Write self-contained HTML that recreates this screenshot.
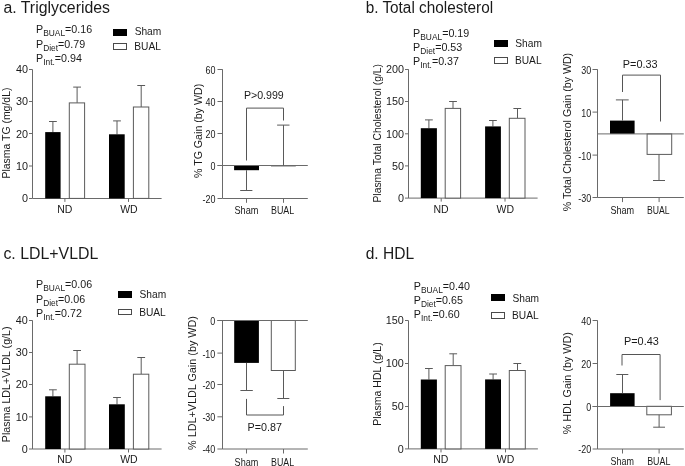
<!DOCTYPE html>
<html><head><meta charset="utf-8"><style>
html,body{margin:0;padding:0;background:#fff;}
svg{display:block;will-change:transform;font-family:"Liberation Sans", sans-serif;}
</style></head><body>
<svg width="685" height="466" viewBox="0 0 685 466">
<rect width="685" height="466" fill="#fff"/>
<text x="3.43" y="12.5" font-size="15.8" fill="#1a1a1a" textLength="106.63" lengthAdjust="spacingAndGlyphs">a. Triglycerides</text>
<text x="36.02" y="33.16" font-size="10.7" fill="#1a1a1a">P<tspan font-size="8.4" dy="3">BUAL</tspan><tspan dy="-3">=0.16</tspan></text>
<text x="36.02" y="47.56" font-size="10.7" fill="#1a1a1a">P<tspan font-size="8.4" dy="3">Diet</tspan><tspan dy="-3">=0.79</tspan></text>
<text x="36.02" y="61.86" font-size="10.7" fill="#1a1a1a">P<tspan font-size="8.4" dy="3">Int.</tspan><tspan dy="-3">=0.94</tspan></text>
<rect x="113.5" y="29.5" width="13" height="6" fill="#000" stroke="#000" stroke-width="1"/>
<rect x="113.5" y="43.5" width="13" height="6" fill="#fff" stroke="#4a4a4a" stroke-width="1"/>
<text x="134.64" y="35.3" font-size="10.2" fill="#1a1a1a">Sham</text>
<text x="134.26" y="50.1" font-size="10.2" fill="#1a1a1a">BUAL</text>
<line x1="32.5" y1="69.5" x2="32.5" y2="198.4" stroke="#6a6a6a" stroke-width="1"/>
<line x1="29" y1="69.5" x2="32.5" y2="69.5" stroke="#6a6a6a" stroke-width="1"/>
<text x="15.92" y="73.32" font-size="10.8" fill="#1a1a1a">40</text>
<line x1="29" y1="101.5" x2="32.5" y2="101.5" stroke="#6a6a6a" stroke-width="1"/>
<text x="15.92" y="105.32" font-size="10.8" fill="#1a1a1a">30</text>
<line x1="29" y1="133.5" x2="32.5" y2="133.5" stroke="#6a6a6a" stroke-width="1"/>
<text x="15.92" y="137.52" font-size="10.8" fill="#1a1a1a">20</text>
<line x1="29" y1="166" x2="32.5" y2="166" stroke="#6a6a6a" stroke-width="1"/>
<text x="15.92" y="169.82" font-size="10.8" fill="#1a1a1a">10</text>
<line x1="29" y1="198.5" x2="32.5" y2="198.5" stroke="#6a6a6a" stroke-width="1"/>
<text x="21.91" y="202.22" font-size="10.8" fill="#1a1a1a">0</text>
<line x1="32.5" y1="198.5" x2="161.6" y2="198.5" stroke="#6a6a6a" stroke-width="1"/>
<line x1="64.9" y1="198.4" x2="64.9" y2="201.9" stroke="#6a6a6a" stroke-width="1"/>
<text x="57.13" y="212.82" font-size="10.5" fill="#1a1a1a">ND</text>
<line x1="128.5" y1="198.4" x2="128.5" y2="201.9" stroke="#6a6a6a" stroke-width="1"/>
<text x="120.17" y="212.82" font-size="10.5" fill="#1a1a1a">WD</text>
<line x1="52.9" y1="132.1" x2="52.9" y2="121.5" stroke="#5a5a5a" stroke-width="1"/>
<line x1="49" y1="121.5" x2="56.8" y2="121.5" stroke="#5a5a5a" stroke-width="1"/>
<rect x="45.2" y="132.1" width="15.4" height="66.3" fill="#000" stroke="none" stroke-width="1"/>
<line x1="77.1" y1="102.9" x2="77.1" y2="87.1" stroke="#5a5a5a" stroke-width="1"/>
<line x1="73.2" y1="87.1" x2="81" y2="87.1" stroke="#5a5a5a" stroke-width="1"/>
<rect x="69.3" y="102.9" width="15.3" height="95.5" fill="#fff" stroke="#5a5a5a" stroke-width="1"/>
<line x1="117" y1="134.3" x2="117" y2="120.9" stroke="#5a5a5a" stroke-width="1"/>
<line x1="113.1" y1="120.9" x2="120.9" y2="120.9" stroke="#5a5a5a" stroke-width="1"/>
<rect x="109" y="134.3" width="15.7" height="64.1" fill="#000" stroke="none" stroke-width="1"/>
<line x1="141.2" y1="107" x2="141.2" y2="85.4" stroke="#5a5a5a" stroke-width="1"/>
<line x1="137.3" y1="85.5" x2="145.1" y2="85.5" stroke="#5a5a5a" stroke-width="1"/>
<rect x="133.4" y="107" width="15.4" height="91.4" fill="#fff" stroke="#5a5a5a" stroke-width="1"/>
<text x="0" y="0" font-size="10.46" fill="#1a1a1a" transform="translate(10.1,178.56) rotate(-90)">Plasma TG (mg/dL)</text>
<line x1="222.5" y1="69.3" x2="222.5" y2="198.3" stroke="#6a6a6a" stroke-width="1"/>
<line x1="217.5" y1="69.5" x2="222.5" y2="69.5" stroke="#6a6a6a" stroke-width="1"/>
<text x="205.59" y="73.74" font-size="10.3" fill="#1a1a1a" textLength="9.97" lengthAdjust="spacingAndGlyphs">60</text>
<line x1="217.5" y1="101.5" x2="222.5" y2="101.5" stroke="#6a6a6a" stroke-width="1"/>
<text x="205.59" y="106.24" font-size="10.3" fill="#1a1a1a" textLength="9.97" lengthAdjust="spacingAndGlyphs">40</text>
<line x1="217.5" y1="133.5" x2="222.5" y2="133.5" stroke="#6a6a6a" stroke-width="1"/>
<text x="205.59" y="138.04" font-size="10.3" fill="#1a1a1a" textLength="9.97" lengthAdjust="spacingAndGlyphs">20</text>
<line x1="217.5" y1="165.5" x2="222.5" y2="165.5" stroke="#6a6a6a" stroke-width="1"/>
<text x="210.56" y="170.14" font-size="10.3" fill="#1a1a1a" textLength="4.98" lengthAdjust="spacingAndGlyphs">0</text>
<line x1="217.5" y1="198.5" x2="222.5" y2="198.5" stroke="#6a6a6a" stroke-width="1"/>
<text x="202.59" y="202.74" font-size="10.3" fill="#1a1a1a" textLength="12.95" lengthAdjust="spacingAndGlyphs">-20</text>
<line x1="222.5" y1="198.5" x2="307.8" y2="198.5" stroke="#6a6a6a" stroke-width="1"/>
<line x1="246.5" y1="198.3" x2="246.5" y2="202.8" stroke="#6a6a6a" stroke-width="1"/>
<line x1="283.5" y1="198.3" x2="283.5" y2="202.8" stroke="#6a6a6a" stroke-width="1"/>
<text x="234.49" y="214.3" font-size="10.4" fill="#1a1a1a" textLength="24.01" lengthAdjust="spacingAndGlyphs">Sham</text>
<text x="270.97" y="214.3" font-size="10.4" fill="#1a1a1a" textLength="23.24" lengthAdjust="spacingAndGlyphs">BUAL</text>
<rect x="234.1" y="165.7" width="24.9" height="4.5" fill="#000" stroke="none" stroke-width="1"/>
<line x1="271" y1="165.85" x2="295.8" y2="165.85" stroke="#333" stroke-width="1"/>
<line x1="217.5" y1="165.5" x2="307.8" y2="165.5" stroke="#6a6a6a" stroke-width="1"/>
<line x1="246.5" y1="170.2" x2="246.5" y2="190.7" stroke="#5a5a5a" stroke-width="1"/>
<line x1="240.2" y1="190.5" x2="252.4" y2="190.5" stroke="#5a5a5a" stroke-width="1"/>
<line x1="283.5" y1="165.7" x2="283.5" y2="125.1" stroke="#5a5a5a" stroke-width="1"/>
<line x1="277.1" y1="125.1" x2="289.5" y2="125.1" stroke="#5a5a5a" stroke-width="1"/>
<polyline points="246.5,160.5 246.5,108.1 283.5,108.1 283.5,120.5" fill="none" stroke="#555" stroke-width="1"/>
<text x="243.92" y="99.1" font-size="10.7" fill="#1a1a1a" textLength="39.86" lengthAdjust="spacingAndGlyphs">P&gt;0.999</text>
<text x="0" y="0" font-size="10.64" fill="#1a1a1a" transform="translate(201.8,178.07) rotate(-90)">% TG Gain (by WD)</text>
<text x="365.7" y="12.5" font-size="15.8" fill="#1a1a1a" textLength="127.43" lengthAdjust="spacingAndGlyphs">b. Total cholesterol</text>
<text x="413.12" y="36.56" font-size="10.7" fill="#1a1a1a">P<tspan font-size="8.4" dy="3">BUAL</tspan><tspan dy="-3">=0.19</tspan></text>
<text x="413.12" y="51.06" font-size="10.7" fill="#1a1a1a">P<tspan font-size="8.4" dy="3">Diet</tspan><tspan dy="-3">=0.53</tspan></text>
<text x="413.12" y="65.16" font-size="10.7" fill="#1a1a1a">P<tspan font-size="8.4" dy="3">Int.</tspan><tspan dy="-3">=0.37</tspan></text>
<rect x="494.5" y="40.5" width="13" height="6" fill="#000" stroke="#000" stroke-width="1"/>
<rect x="494.5" y="57.5" width="13" height="6" fill="#fff" stroke="#4a4a4a" stroke-width="1"/>
<text x="515.34" y="47.1" font-size="10.2" fill="#1a1a1a">Sham</text>
<text x="514.96" y="64.2" font-size="10.2" fill="#1a1a1a">BUAL</text>
<line x1="408.5" y1="69.3" x2="408.5" y2="198.1" stroke="#6a6a6a" stroke-width="1"/>
<line x1="405" y1="69.5" x2="408.5" y2="69.5" stroke="#6a6a6a" stroke-width="1"/>
<text x="386" y="73.12" font-size="10.8" fill="#1a1a1a">200</text>
<line x1="405" y1="101.5" x2="408.5" y2="101.5" stroke="#6a6a6a" stroke-width="1"/>
<text x="386" y="105.32" font-size="10.8" fill="#1a1a1a">150</text>
<line x1="405" y1="133.8" x2="408.5" y2="133.8" stroke="#6a6a6a" stroke-width="1"/>
<text x="386" y="137.62" font-size="10.8" fill="#1a1a1a">100</text>
<line x1="405" y1="165.9" x2="408.5" y2="165.9" stroke="#6a6a6a" stroke-width="1"/>
<text x="392.02" y="169.72" font-size="10.8" fill="#1a1a1a">50</text>
<line x1="405" y1="198.1" x2="408.5" y2="198.1" stroke="#6a6a6a" stroke-width="1"/>
<text x="398.01" y="201.92" font-size="10.8" fill="#1a1a1a">0</text>
<line x1="408.5" y1="198.1" x2="537.6" y2="198.1" stroke="#6a6a6a" stroke-width="1"/>
<line x1="441.2" y1="198.1" x2="441.2" y2="201.6" stroke="#6a6a6a" stroke-width="1"/>
<text x="433.43" y="212.82" font-size="10.5" fill="#1a1a1a">ND</text>
<line x1="505" y1="198.1" x2="505" y2="201.6" stroke="#6a6a6a" stroke-width="1"/>
<text x="496.47" y="212.82" font-size="10.5" fill="#1a1a1a">WD</text>
<line x1="428.9" y1="128.2" x2="428.9" y2="119.9" stroke="#5a5a5a" stroke-width="1"/>
<line x1="425" y1="119.9" x2="432.8" y2="119.9" stroke="#5a5a5a" stroke-width="1"/>
<rect x="420.8" y="128.2" width="16.1" height="69.9" fill="#000" stroke="none" stroke-width="1"/>
<line x1="453" y1="108.4" x2="453" y2="101.3" stroke="#5a5a5a" stroke-width="1"/>
<line x1="449.1" y1="101.5" x2="456.9" y2="101.5" stroke="#5a5a5a" stroke-width="1"/>
<rect x="445.2" y="108.4" width="15.4" height="89.7" fill="#fff" stroke="#5a5a5a" stroke-width="1"/>
<line x1="492.9" y1="126.4" x2="492.9" y2="120.5" stroke="#5a5a5a" stroke-width="1"/>
<line x1="489" y1="120.5" x2="496.8" y2="120.5" stroke="#5a5a5a" stroke-width="1"/>
<rect x="485.1" y="126.4" width="15.8" height="71.7" fill="#000" stroke="none" stroke-width="1"/>
<line x1="517.5" y1="118.3" x2="517.5" y2="108.4" stroke="#5a5a5a" stroke-width="1"/>
<line x1="513.4" y1="108.5" x2="521.2" y2="108.5" stroke="#5a5a5a" stroke-width="1"/>
<rect x="509.3" y="118.3" width="15.7" height="79.8" fill="#fff" stroke="#5a5a5a" stroke-width="1"/>
<text x="0" y="0" font-size="10.37" fill="#1a1a1a" transform="translate(381,202.56) rotate(-90)">Plasma Total Cholesterol (g/L)</text>
<line x1="597.5" y1="69.3" x2="597.5" y2="197.6" stroke="#6a6a6a" stroke-width="1"/>
<line x1="592.5" y1="69.5" x2="597.5" y2="69.5" stroke="#6a6a6a" stroke-width="1"/>
<text x="581.19" y="73.74" font-size="10.3" fill="#1a1a1a" textLength="9.97" lengthAdjust="spacingAndGlyphs">30</text>
<line x1="592.5" y1="112.1" x2="597.5" y2="112.1" stroke="#6a6a6a" stroke-width="1"/>
<text x="581.19" y="116.54" font-size="10.3" fill="#1a1a1a" textLength="9.97" lengthAdjust="spacingAndGlyphs">10</text>
<line x1="592.5" y1="155.1" x2="597.5" y2="155.1" stroke="#6a6a6a" stroke-width="1"/>
<text x="578.19" y="159.54" font-size="10.3" fill="#1a1a1a" textLength="12.95" lengthAdjust="spacingAndGlyphs">-10</text>
<line x1="592.5" y1="197.5" x2="597.5" y2="197.5" stroke="#6a6a6a" stroke-width="1"/>
<text x="578.19" y="202.04" font-size="10.3" fill="#1a1a1a" textLength="12.95" lengthAdjust="spacingAndGlyphs">-30</text>
<line x1="597.5" y1="197.5" x2="683.8" y2="197.5" stroke="#6a6a6a" stroke-width="1"/>
<line x1="622.5" y1="197.6" x2="622.5" y2="202.1" stroke="#6a6a6a" stroke-width="1"/>
<line x1="659.1" y1="197.6" x2="659.1" y2="202.1" stroke="#6a6a6a" stroke-width="1"/>
<text x="610.39" y="214.4" font-size="10.4" fill="#1a1a1a" textLength="23.8" lengthAdjust="spacingAndGlyphs">Sham</text>
<text x="646.99" y="214.4" font-size="10.4" fill="#1a1a1a" textLength="22.62" lengthAdjust="spacingAndGlyphs">BUAL</text>
<rect x="610" y="120.6" width="24.6" height="13.3" fill="#000" stroke="none" stroke-width="1"/>
<rect x="647.1" y="133.9" width="24.6" height="20.5" fill="#fff" stroke="#5a5a5a" stroke-width="1"/>
<line x1="597.5" y1="133.9" x2="683.8" y2="133.9" stroke="#6a6a6a" stroke-width="1"/>
<line x1="622.5" y1="120.6" x2="622.5" y2="99.9" stroke="#5a5a5a" stroke-width="1"/>
<line x1="615.9" y1="99.9" x2="628.7" y2="99.9" stroke="#5a5a5a" stroke-width="1"/>
<line x1="659" y1="154.4" x2="659" y2="180.6" stroke="#5a5a5a" stroke-width="1"/>
<line x1="653" y1="180.5" x2="665" y2="180.5" stroke="#5a5a5a" stroke-width="1"/>
<polyline points="622.5,92 622.5,75.1 660.5,75.1 660.5,121.5" fill="none" stroke="#555" stroke-width="1"/>
<text x="622.8" y="67.9" font-size="10.7" fill="#1a1a1a" textLength="34.79" lengthAdjust="spacingAndGlyphs">P=0.33</text>
<text x="0" y="0" font-size="10.61" fill="#1a1a1a" transform="translate(570.9,211.27) rotate(-90)">% Total Cholesterol Gain (by WD)</text>
<text x="3.43" y="258.9" font-size="15.8" fill="#1a1a1a" textLength="94.9" lengthAdjust="spacingAndGlyphs">c. LDL+VLDL</text>
<text x="36.02" y="287.96" font-size="10.7" fill="#1a1a1a">P<tspan font-size="8.4" dy="3">BUAL</tspan><tspan dy="-3">=0.06</tspan></text>
<text x="36.02" y="302.56" font-size="10.7" fill="#1a1a1a">P<tspan font-size="8.4" dy="3">Diet</tspan><tspan dy="-3">=0.06</tspan></text>
<text x="36.02" y="316.56" font-size="10.7" fill="#1a1a1a">P<tspan font-size="8.4" dy="3">Int.</tspan><tspan dy="-3">=0.72</tspan></text>
<rect x="118.5" y="291.5" width="13" height="6" fill="#000" stroke="#000" stroke-width="1"/>
<rect x="118.5" y="309.5" width="13" height="5" fill="#fff" stroke="#4a4a4a" stroke-width="1"/>
<text x="139.54" y="298.4" font-size="10.2" fill="#1a1a1a">Sham</text>
<text x="139.16" y="315.5" font-size="10.2" fill="#1a1a1a">BUAL</text>
<line x1="32.5" y1="320.4" x2="32.5" y2="449" stroke="#6a6a6a" stroke-width="1"/>
<line x1="29" y1="320.5" x2="32.5" y2="320.5" stroke="#6a6a6a" stroke-width="1"/>
<text x="15.82" y="324.22" font-size="10.8" fill="#1a1a1a">40</text>
<line x1="29" y1="352.5" x2="32.5" y2="352.5" stroke="#6a6a6a" stroke-width="1"/>
<text x="15.82" y="356.12" font-size="10.8" fill="#1a1a1a">30</text>
<line x1="29" y1="384.5" x2="32.5" y2="384.5" stroke="#6a6a6a" stroke-width="1"/>
<text x="15.82" y="388.42" font-size="10.8" fill="#1a1a1a">20</text>
<line x1="29" y1="416.9" x2="32.5" y2="416.9" stroke="#6a6a6a" stroke-width="1"/>
<text x="15.82" y="420.72" font-size="10.8" fill="#1a1a1a">10</text>
<line x1="29" y1="449" x2="32.5" y2="449" stroke="#6a6a6a" stroke-width="1"/>
<text x="21.81" y="452.82" font-size="10.8" fill="#1a1a1a">0</text>
<line x1="32.5" y1="449" x2="161.6" y2="449" stroke="#6a6a6a" stroke-width="1"/>
<line x1="64.9" y1="449" x2="64.9" y2="452.5" stroke="#6a6a6a" stroke-width="1"/>
<text x="57.13" y="463.12" font-size="10.5" fill="#1a1a1a">ND</text>
<line x1="128.5" y1="449" x2="128.5" y2="452.5" stroke="#6a6a6a" stroke-width="1"/>
<text x="120.17" y="463.12" font-size="10.5" fill="#1a1a1a">WD</text>
<line x1="52.9" y1="396.3" x2="52.9" y2="389.8" stroke="#5a5a5a" stroke-width="1"/>
<line x1="49" y1="389.8" x2="56.8" y2="389.8" stroke="#5a5a5a" stroke-width="1"/>
<rect x="45.2" y="396.3" width="15.7" height="52.7" fill="#000" stroke="none" stroke-width="1"/>
<line x1="77.1" y1="364.2" x2="77.1" y2="350.3" stroke="#5a5a5a" stroke-width="1"/>
<line x1="73.2" y1="350.5" x2="81" y2="350.5" stroke="#5a5a5a" stroke-width="1"/>
<rect x="69.3" y="364.2" width="15.7" height="84.8" fill="#fff" stroke="#5a5a5a" stroke-width="1"/>
<line x1="117" y1="404.3" x2="117" y2="397.6" stroke="#5a5a5a" stroke-width="1"/>
<line x1="113.1" y1="397.5" x2="120.9" y2="397.5" stroke="#5a5a5a" stroke-width="1"/>
<rect x="109" y="404.3" width="15.8" height="44.7" fill="#000" stroke="none" stroke-width="1"/>
<line x1="141.2" y1="374.2" x2="141.2" y2="357.7" stroke="#5a5a5a" stroke-width="1"/>
<line x1="137.3" y1="357.5" x2="145.1" y2="357.5" stroke="#5a5a5a" stroke-width="1"/>
<rect x="133.4" y="374.2" width="15.4" height="74.8" fill="#fff" stroke="#5a5a5a" stroke-width="1"/>
<text x="0" y="0" font-size="10.7" fill="#1a1a1a" transform="translate(10.2,442.18) rotate(-90)">Plasma LDL+VLDL (g/L)</text>
<line x1="222.5" y1="320.5" x2="222.5" y2="449" stroke="#6a6a6a" stroke-width="1"/>
<line x1="217.4" y1="320.5" x2="222.4" y2="320.5" stroke="#6a6a6a" stroke-width="1"/>
<text x="210.36" y="324.94" font-size="10.3" fill="#1a1a1a" textLength="4.98" lengthAdjust="spacingAndGlyphs">0</text>
<line x1="217.4" y1="353.1" x2="222.4" y2="353.1" stroke="#6a6a6a" stroke-width="1"/>
<text x="202.39" y="357.54" font-size="10.3" fill="#1a1a1a" textLength="12.95" lengthAdjust="spacingAndGlyphs">-10</text>
<line x1="217.4" y1="384.5" x2="222.4" y2="384.5" stroke="#6a6a6a" stroke-width="1"/>
<text x="202.39" y="388.84" font-size="10.3" fill="#1a1a1a" textLength="12.95" lengthAdjust="spacingAndGlyphs">-20</text>
<line x1="217.4" y1="416.8" x2="222.4" y2="416.8" stroke="#6a6a6a" stroke-width="1"/>
<text x="202.39" y="421.24" font-size="10.3" fill="#1a1a1a" textLength="12.95" lengthAdjust="spacingAndGlyphs">-30</text>
<line x1="217.4" y1="449" x2="222.4" y2="449" stroke="#6a6a6a" stroke-width="1"/>
<text x="202.39" y="453.44" font-size="10.3" fill="#1a1a1a" textLength="12.95" lengthAdjust="spacingAndGlyphs">-40</text>
<line x1="222.4" y1="449" x2="307.8" y2="449" stroke="#6a6a6a" stroke-width="1"/>
<line x1="246.5" y1="449" x2="246.5" y2="453.5" stroke="#6a6a6a" stroke-width="1"/>
<line x1="283.5" y1="449" x2="283.5" y2="453.5" stroke="#6a6a6a" stroke-width="1"/>
<text x="234.59" y="465.8" font-size="10.4" fill="#1a1a1a" textLength="23.7" lengthAdjust="spacingAndGlyphs">Sham</text>
<text x="271.07" y="465.8" font-size="10.4" fill="#1a1a1a" textLength="23.03" lengthAdjust="spacingAndGlyphs">BUAL</text>
<rect x="234.2" y="320.5" width="24.7" height="42.4" fill="#000" stroke="none" stroke-width="1"/>
<rect x="271.3" y="320.5" width="24" height="50" fill="#fff" stroke="#5a5a5a" stroke-width="1"/>
<line x1="217.4" y1="320.5" x2="307.8" y2="320.5" stroke="#6a6a6a" stroke-width="1"/>
<line x1="246.5" y1="362.9" x2="246.5" y2="390.6" stroke="#5a5a5a" stroke-width="1"/>
<line x1="240.4" y1="390.5" x2="252.8" y2="390.5" stroke="#5a5a5a" stroke-width="1"/>
<line x1="283.5" y1="370.5" x2="283.5" y2="398.5" stroke="#5a5a5a" stroke-width="1"/>
<line x1="277.3" y1="398.5" x2="289.3" y2="398.5" stroke="#5a5a5a" stroke-width="1"/>
<polyline points="246.5,398.9 246.5,415 283.5,415 283.5,406.1" fill="none" stroke="#555" stroke-width="1"/>
<text x="247.61" y="430.8" font-size="10.7" fill="#1a1a1a" textLength="34.35" lengthAdjust="spacingAndGlyphs">P=0.87</text>
<text x="0" y="0" font-size="10.82" fill="#1a1a1a" transform="translate(196,449.98) rotate(-90)">% LDL+VLDL Gain (by WD)</text>
<text x="365.64" y="258.8" font-size="15.8" fill="#1a1a1a" textLength="48.47" lengthAdjust="spacingAndGlyphs">d. HDL</text>
<text x="413.82" y="290.06" font-size="10.7" fill="#1a1a1a">P<tspan font-size="8.4" dy="3">BUAL</tspan><tspan dy="-3">=0.40</tspan></text>
<text x="413.82" y="304.36" font-size="10.7" fill="#1a1a1a">P<tspan font-size="8.4" dy="3">Diet</tspan><tspan dy="-3">=0.65</tspan></text>
<text x="413.82" y="318.46" font-size="10.7" fill="#1a1a1a">P<tspan font-size="8.4" dy="3">Int.</tspan><tspan dy="-3">=0.60</tspan></text>
<rect x="491.5" y="294.5" width="13" height="6" fill="#000" stroke="#000" stroke-width="1"/>
<rect x="491.5" y="312.5" width="13" height="6" fill="#fff" stroke="#4a4a4a" stroke-width="1"/>
<text x="512.44" y="301.6" font-size="10.2" fill="#1a1a1a">Sham</text>
<text x="512.06" y="318.9" font-size="10.2" fill="#1a1a1a">BUAL</text>
<line x1="408.5" y1="320.6" x2="408.5" y2="448.9" stroke="#6a6a6a" stroke-width="1"/>
<line x1="405" y1="320.5" x2="408.5" y2="320.5" stroke="#6a6a6a" stroke-width="1"/>
<text x="385.7" y="324.42" font-size="10.8" fill="#1a1a1a">150</text>
<line x1="405" y1="363.5" x2="408.5" y2="363.5" stroke="#6a6a6a" stroke-width="1"/>
<text x="385.7" y="367.12" font-size="10.8" fill="#1a1a1a">100</text>
<line x1="405" y1="406.5" x2="408.5" y2="406.5" stroke="#6a6a6a" stroke-width="1"/>
<text x="391.72" y="410.32" font-size="10.8" fill="#1a1a1a">50</text>
<line x1="405" y1="448.9" x2="408.5" y2="448.9" stroke="#6a6a6a" stroke-width="1"/>
<text x="397.71" y="452.72" font-size="10.8" fill="#1a1a1a">0</text>
<line x1="408.5" y1="448.9" x2="537.9" y2="448.9" stroke="#6a6a6a" stroke-width="1"/>
<line x1="441" y1="448.9" x2="441" y2="452.4" stroke="#6a6a6a" stroke-width="1"/>
<text x="433.23" y="463.12" font-size="10.5" fill="#1a1a1a">ND</text>
<line x1="505.5" y1="448.9" x2="505.5" y2="452.4" stroke="#6a6a6a" stroke-width="1"/>
<text x="496.87" y="463.12" font-size="10.5" fill="#1a1a1a">WD</text>
<line x1="428.9" y1="379.5" x2="428.9" y2="368.4" stroke="#5a5a5a" stroke-width="1"/>
<line x1="425" y1="368.5" x2="432.8" y2="368.5" stroke="#5a5a5a" stroke-width="1"/>
<rect x="420.8" y="379.5" width="16.1" height="69.4" fill="#000" stroke="none" stroke-width="1"/>
<line x1="453.2" y1="365.6" x2="453.2" y2="353.8" stroke="#5a5a5a" stroke-width="1"/>
<line x1="449.3" y1="353.8" x2="457.1" y2="353.8" stroke="#5a5a5a" stroke-width="1"/>
<rect x="445.2" y="365.6" width="15.8" height="83.3" fill="#fff" stroke="#5a5a5a" stroke-width="1"/>
<line x1="493.1" y1="379.4" x2="493.1" y2="374" stroke="#5a5a5a" stroke-width="1"/>
<line x1="489.2" y1="374" x2="497" y2="374" stroke="#5a5a5a" stroke-width="1"/>
<rect x="485.1" y="379.4" width="15.9" height="69.5" fill="#000" stroke="none" stroke-width="1"/>
<line x1="517.5" y1="370.5" x2="517.5" y2="363.4" stroke="#5a5a5a" stroke-width="1"/>
<line x1="513.4" y1="363.5" x2="521.2" y2="363.5" stroke="#5a5a5a" stroke-width="1"/>
<rect x="509.3" y="370.5" width="16" height="78.4" fill="#fff" stroke="#5a5a5a" stroke-width="1"/>
<text x="0" y="0" font-size="10.55" fill="#1a1a1a" transform="translate(381,425.77) rotate(-90)">Plasma HDL (g/L)</text>
<line x1="597.5" y1="320.5" x2="597.5" y2="449" stroke="#6a6a6a" stroke-width="1"/>
<line x1="592.6" y1="320.5" x2="597.6" y2="320.5" stroke="#6a6a6a" stroke-width="1"/>
<text x="581.29" y="324.94" font-size="10.3" fill="#1a1a1a" textLength="9.97" lengthAdjust="spacingAndGlyphs">40</text>
<line x1="592.6" y1="363.5" x2="597.6" y2="363.5" stroke="#6a6a6a" stroke-width="1"/>
<text x="581.29" y="367.74" font-size="10.3" fill="#1a1a1a" textLength="9.97" lengthAdjust="spacingAndGlyphs">20</text>
<line x1="592.6" y1="406.5" x2="597.6" y2="406.5" stroke="#6a6a6a" stroke-width="1"/>
<text x="586.26" y="410.74" font-size="10.3" fill="#1a1a1a" textLength="4.98" lengthAdjust="spacingAndGlyphs">0</text>
<line x1="592.6" y1="449" x2="597.6" y2="449" stroke="#6a6a6a" stroke-width="1"/>
<text x="578.29" y="453.44" font-size="10.3" fill="#1a1a1a" textLength="12.95" lengthAdjust="spacingAndGlyphs">-20</text>
<line x1="597.6" y1="449" x2="683.8" y2="449" stroke="#6a6a6a" stroke-width="1"/>
<line x1="622.5" y1="449" x2="622.5" y2="453.5" stroke="#6a6a6a" stroke-width="1"/>
<line x1="659.1" y1="449" x2="659.1" y2="453.5" stroke="#6a6a6a" stroke-width="1"/>
<text x="610.5" y="465.2" font-size="10.4" fill="#1a1a1a" textLength="23.38" lengthAdjust="spacingAndGlyphs">Sham</text>
<text x="647.17" y="465.2" font-size="10.4" fill="#1a1a1a" textLength="23.24" lengthAdjust="spacingAndGlyphs">BUAL</text>
<rect x="610.1" y="393.2" width="24.5" height="13.1" fill="#000" stroke="none" stroke-width="1"/>
<rect x="646.8" y="406.3" width="24.6" height="8.5" fill="#fff" stroke="#5a5a5a" stroke-width="1"/>
<line x1="592.6" y1="406.5" x2="683.8" y2="406.5" stroke="#6a6a6a" stroke-width="1"/>
<line x1="622.5" y1="393.2" x2="622.5" y2="374.6" stroke="#5a5a5a" stroke-width="1"/>
<line x1="616.3" y1="374.5" x2="628.3" y2="374.5" stroke="#5a5a5a" stroke-width="1"/>
<line x1="659.1" y1="414.8" x2="659.1" y2="427.2" stroke="#5a5a5a" stroke-width="1"/>
<line x1="653.2" y1="427.2" x2="665" y2="427.2" stroke="#5a5a5a" stroke-width="1"/>
<polyline points="622,365.5 622,354.5 660.1,354.5 660.1,400.1" fill="none" stroke="#555" stroke-width="1"/>
<text x="624" y="344.9" font-size="10.7" fill="#1a1a1a" textLength="34.79" lengthAdjust="spacingAndGlyphs">P=0.43</text>
<text x="0" y="0" font-size="10.8" fill="#1a1a1a" transform="translate(571.1,434.28) rotate(-90)">% HDL Gain (by WD)</text>
</svg></body></html>
